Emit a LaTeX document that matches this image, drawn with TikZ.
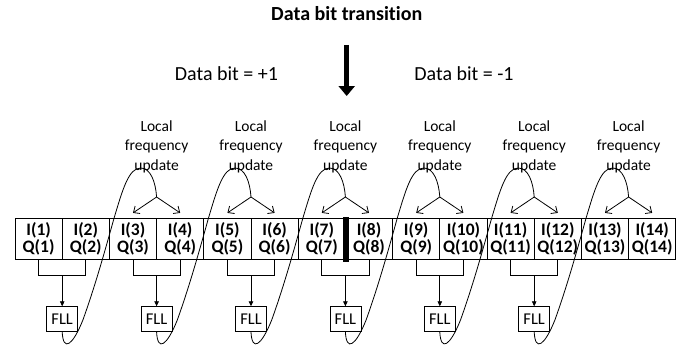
\documentclass[tikz,border=0pt]{standalone}
\usepackage{fontspec}
\setmainfont{Carlito}[Ligatures={NoCommon}]
\usetikzlibrary{arrows.meta,calc}
\begin{document}
\begin{tikzpicture}[x=1pt,y=-1pt, line width=0.8pt,
  cell/.style={draw, minimum width=47.2pt, minimum height=40.7pt, inner sep=0pt, align=center, font=\fontsize{17.5}{16.6}\selectfont\bfseries},
  fllbox/.style={draw, minimum width=31pt, minimum height=25pt, inner sep=0pt, font=\fontsize{16.5}{18}\selectfont},
  lfu/.style={align=center, font=\fontsize{15.5}{19.5}\selectfont},
  upd/.style={-{Straight Barb[length=5pt,width=9pt]}},
  feed/.style={-{Triangle[length=5pt,width=4.5pt]}},
  bigtext/.style={font=\fontsize{20}{24}\selectfont},
]
\useasboundingbox (0,0) rectangle (688,345);

\node[bigtext, font=\fontsize{20}{24}\selectfont\bfseries] (title) at (346.7,13.3) {Data bit transition};
\node[bigtext] (plus) at (226.5,73.5) {Data bit = +1};
\node[bigtext] (minus) at (464,73.5) {Data bit = -1};
\coordinate (arrtop) at (346.7,45);
\coordinate (arrbot) at (346.7,96);
\draw[line width=5pt, -{Triangle[length=10pt,width=16pt]}] (arrtop) -- (arrbot);

\foreach \i in {1,...,14}
  \node[cell] (c\i) at ({15+47.2*(\i-0.5)}, 238.65) {I(\i)\\Q(\i)};

\node[fill=black, minimum width=6pt, minimum height=45pt, inner sep=0pt] (bar) at (346.3,239.2) {};

\foreach \k in {0,...,5}{
  \pgfmathtruncatemacro\a{2*\k+1}
  \pgfmathtruncatemacro\b{2*\k+2}
  \pgfmathtruncatemacro\c{2*\k+3}
  \pgfmathtruncatemacro\d{2*\k+4}
  \pgfmathsetmacro\xc{15+47.2*(2*\k+1)}
  \pgfmathsetmacro\xs{15+47.2*(2*\k+3)}
  \node[fllbox] (f\k) at (\xc,319.2) {FLL};
  \coordinate (j\k) at (\xc,275);
  \draw (c\a.south) -- (c\a.south |- j\k) -- (c\b.south |- j\k) -- (c\b.south);
  \draw[feed] (j\k) -- (f\k.north);
  \coordinate (s\k) at (\xs,197);
  \draw (f\k.south) .. controls (\xs-93.4,352) and (\xs-84.1,346) .. (\xs-73.7,320)
     .. controls (\xs-61.5,286) and (\xs-52,252) .. (\xs-42.5,218)
     .. controls (\xs-34.1,190) and (\xs-28,168) .. (\xs-16,168)
     .. controls (\xs-6,168) and (\xs-1,182) .. (s\k);
  \draw[upd] (s\k) -- ($(c\c.north)+(0,-5)$);
  \draw[upd] (s\k) -- ($(c\d.north)+(0,-5)$);
  \node[lfu] (t\k) at (\xs,146.7) {Local\\frequency\\update};
}
\end{tikzpicture}
\end{document}
